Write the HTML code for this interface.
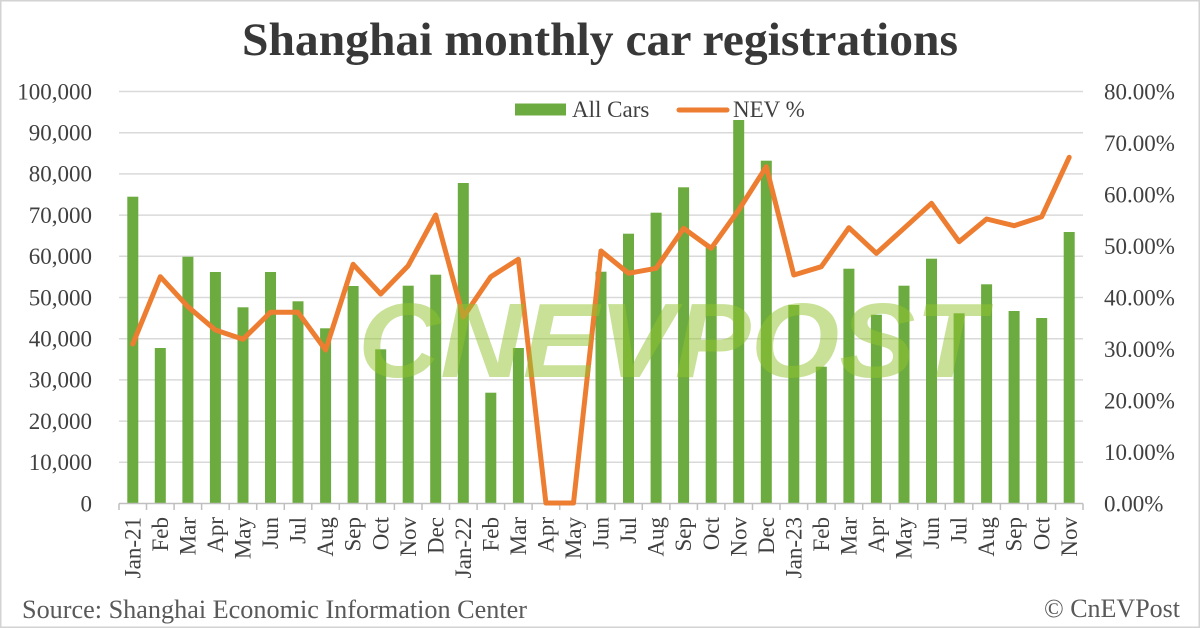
<!DOCTYPE html>
<html>
<head>
<meta charset="utf-8">
<style>
  html, body { margin: 0; padding: 0; background: #ffffff; }
  svg { display: block; }
  .ax { font-family: "Liberation Serif", "Times New Roman", serif; font-size: 23px; fill: #404040; }
</style>
</head>
<body>
<svg width="1200" height="628" viewBox="0 0 1200 628" xmlns="http://www.w3.org/2000/svg">
  <rect x="0" y="0" width="1200" height="628" fill="#ffffff"/>
  <rect x="0.75" y="0.75" width="1198.5" height="626.5" fill="none" stroke="#d3d3d3" stroke-width="1.5"/>

  <!-- Title -->
  <text x="242" y="55" textLength="716" lengthAdjust="spacingAndGlyphs" font-family="Liberation Serif, serif" font-weight="bold" font-size="47" fill="#383838">Shanghai monthly car registrations</text>

  <!-- Gridlines -->
  <g stroke="#d9d9d9" stroke-width="1.5">
    <line x1="119" y1="91.5" x2="1083" y2="91.5"/>
    <line x1="119" y1="132.7" x2="1083" y2="132.7"/>
    <line x1="119" y1="173.9" x2="1083" y2="173.9"/>
    <line x1="119" y1="215.1" x2="1083" y2="215.1"/>
    <line x1="119" y1="256.3" x2="1083" y2="256.3"/>
    <line x1="119" y1="297.5" x2="1083" y2="297.5"/>
    <line x1="119" y1="338.7" x2="1083" y2="338.7"/>
    <line x1="119" y1="379.9" x2="1083" y2="379.9"/>
    <line x1="119" y1="421.1" x2="1083" y2="421.1"/>
    <line x1="119" y1="462.3" x2="1083" y2="462.3"/>
  </g>

  <!-- Bars -->
  <g fill="#6cab3f">
    <rect x="127.3" y="196.7" width="11" height="306.8"/>
    <rect x="154.8" y="348" width="11" height="155.5"/>
    <rect x="182.4" y="256.7" width="11" height="246.8"/>
    <rect x="209.9" y="272" width="11" height="231.5"/>
    <rect x="237.5" y="307.3" width="11" height="196.2"/>
    <rect x="265" y="272" width="11" height="231.5"/>
    <rect x="292.5" y="301.3" width="11" height="202.2"/>
    <rect x="320.1" y="328.3" width="11" height="175.2"/>
    <rect x="347.6" y="286" width="11" height="217.5"/>
    <rect x="375.2" y="349.3" width="11" height="154.2"/>
    <rect x="402.7" y="285.7" width="11" height="217.8"/>
    <rect x="430.2" y="274.7" width="11" height="228.8"/>
    <rect x="457.8" y="183" width="11" height="320.5"/>
    <rect x="485.3" y="392.7" width="11" height="110.8"/>
    <rect x="512.9" y="348" width="11" height="155.5"/>
    <rect x="595.5" y="271.7" width="11" height="231.8"/>
    <rect x="623" y="233.7" width="11" height="269.8"/>
    <rect x="650.6" y="212.7" width="11" height="290.8"/>
    <rect x="678.1" y="187.3" width="11" height="316.2"/>
    <rect x="705.7" y="246" width="11" height="257.5"/>
    <rect x="733.2" y="120" width="11" height="383.5"/>
    <rect x="760.8" y="160.7" width="11" height="342.8"/>
    <rect x="788.3" y="305" width="11" height="198.5"/>
    <rect x="815.8" y="366.7" width="11" height="136.8"/>
    <rect x="843.4" y="268.7" width="11" height="234.8"/>
    <rect x="870.9" y="314.7" width="11" height="188.8"/>
    <rect x="898.5" y="285.7" width="11" height="217.8"/>
    <rect x="926" y="258.7" width="11" height="244.8"/>
    <rect x="953.6" y="313.3" width="11" height="190.2"/>
    <rect x="981.1" y="284.3" width="11" height="219.2"/>
    <rect x="1008.6" y="311" width="11" height="192.5"/>
    <rect x="1036.2" y="318" width="11" height="185.5"/>
    <rect x="1063.7" y="232" width="11" height="271.5"/>
  </g>

  <!-- X axis line and ticks -->
  <g stroke="#bfbfbf" stroke-width="1.5">
    <line x1="119" y1="503.5" x2="1083" y2="503.5"/>
    <path d="M119 503.5v6.5M146.5 503.5v6.5M174.1 503.5v6.5M201.6 503.5v6.5M229.2 503.5v6.5M256.7 503.5v6.5M284.3 503.5v6.5M311.8 503.5v6.5M339.3 503.5v6.5M366.9 503.5v6.5M394.4 503.5v6.5M422 503.5v6.5M449.5 503.5v6.5M477.1 503.5v6.5M504.6 503.5v6.5M532.1 503.5v6.5M559.7 503.5v6.5M587.2 503.5v6.5M614.8 503.5v6.5M642.3 503.5v6.5M669.9 503.5v6.5M697.4 503.5v6.5M724.9 503.5v6.5M752.5 503.5v6.5M780 503.5v6.5M807.6 503.5v6.5M835.1 503.5v6.5M862.7 503.5v6.5M890.2 503.5v6.5M917.7 503.5v6.5M945.3 503.5v6.5M972.8 503.5v6.5M1000.4 503.5v6.5M1027.9 503.5v6.5M1055.5 503.5v6.5M1083 503.5v6.5"/>
  </g>

  <!-- NEV % line -->
  <polyline fill="none" stroke="#ed7d31" stroke-width="5" stroke-linejoin="round" stroke-linecap="round"
    points="132.8,344 160.3,276.7 187.9,306.7 215.4,330 243,339.3 270.5,312.3 298,312.3 325.6,350 353.1,264.3 380.7,294 408.2,265.7 435.7,215 463.3,317 490.8,276.7 518.4,259.3 545.9,503 573.5,503 601,251 628.5,273.3 656.1,268.3 683.6,228.3 711.2,248.3 738.7,210 766.3,166.7 793.8,275 821.3,266.7 848.9,227.7 876.4,253.3 904,228.3 931.5,203.3 959.1,241.7 986.6,219 1014.1,225.7 1041.7,216.7 1069.2,157.3"/>

  <!-- Watermark -->
  <text x="358" y="377" textLength="627" lengthAdjust="spacingAndGlyphs" font-family="Liberation Sans, sans-serif" font-weight="bold" font-style="italic" font-size="106" fill="#91c32d" fill-opacity="0.5">CNEVPOST</text>

  <!-- Legend -->
  <rect x="515" y="103.5" width="51" height="12" fill="#6cab3f"/>
  <text x="572" y="117" class="ax" fill="#404040">All Cars</text>
  <line x1="679" y1="110" x2="727" y2="110" stroke="#ed7d31" stroke-width="5" stroke-linecap="round"/>
  <text x="733" y="117" class="ax">NEV %</text>

  <!-- Left axis labels -->
  <g class="ax" text-anchor="end">
    <text x="92" y="99.3">100,000</text>
    <text x="92" y="140.5">90,000</text>
    <text x="92" y="181.7">80,000</text>
    <text x="92" y="222.9">70,000</text>
    <text x="92" y="264.1">60,000</text>
    <text x="92" y="305.3">50,000</text>
    <text x="92" y="346.5">40,000</text>
    <text x="92" y="387.7">30,000</text>
    <text x="92" y="428.9">20,000</text>
    <text x="92" y="470.1">10,000</text>
    <text x="92" y="511.3">0</text>
  </g>

  <!-- Right axis labels -->
  <g class="ax">
    <text x="1104" y="99.3">80.00%</text>
    <text x="1104" y="150.8">70.00%</text>
    <text x="1104" y="202.3">60.00%</text>
    <text x="1104" y="253.8">50.00%</text>
    <text x="1104" y="305.3">40.00%</text>
    <text x="1104" y="356.8">30.00%</text>
    <text x="1104" y="408.3">20.00%</text>
    <text x="1104" y="459.8">10.00%</text>
    <text x="1104" y="511.3">0.00%</text>
  </g>

  <!-- X labels -->
  <g class="ax" text-anchor="end">
    <text transform="translate(140.4,517) rotate(-90)">Jan-21</text>
    <text transform="translate(167.9,517) rotate(-90)">Feb</text>
    <text transform="translate(195.5,517) rotate(-90)">Mar</text>
    <text transform="translate(223,517) rotate(-90)">Apr</text>
    <text transform="translate(250.6,517) rotate(-90)">May</text>
    <text transform="translate(278.1,517) rotate(-90)">Jun</text>
    <text transform="translate(305.6,517) rotate(-90)">Jul</text>
    <text transform="translate(333.2,517) rotate(-90)">Aug</text>
    <text transform="translate(360.7,517) rotate(-90)">Sep</text>
    <text transform="translate(388.3,517) rotate(-90)">Oct</text>
    <text transform="translate(415.8,517) rotate(-90)">Nov</text>
    <text transform="translate(443.3,517) rotate(-90)">Dec</text>
    <text transform="translate(470.9,517) rotate(-90)">Jan-22</text>
    <text transform="translate(498.4,517) rotate(-90)">Feb</text>
    <text transform="translate(526,517) rotate(-90)">Mar</text>
    <text transform="translate(553.5,517) rotate(-90)">Apr</text>
    <text transform="translate(581.1,517) rotate(-90)">May</text>
    <text transform="translate(608.6,517) rotate(-90)">Jun</text>
    <text transform="translate(636.1,517) rotate(-90)">Jul</text>
    <text transform="translate(663.7,517) rotate(-90)">Aug</text>
    <text transform="translate(691.2,517) rotate(-90)">Sep</text>
    <text transform="translate(718.8,517) rotate(-90)">Oct</text>
    <text transform="translate(746.3,517) rotate(-90)">Nov</text>
    <text transform="translate(773.9,517) rotate(-90)">Dec</text>
    <text transform="translate(801.4,517) rotate(-90)">Jan-23</text>
    <text transform="translate(828.9,517) rotate(-90)">Feb</text>
    <text transform="translate(856.5,517) rotate(-90)">Mar</text>
    <text transform="translate(884,517) rotate(-90)">Apr</text>
    <text transform="translate(911.6,517) rotate(-90)">May</text>
    <text transform="translate(939.1,517) rotate(-90)">Jun</text>
    <text transform="translate(966.7,517) rotate(-90)">Jul</text>
    <text transform="translate(994.2,517) rotate(-90)">Aug</text>
    <text transform="translate(1021.7,517) rotate(-90)">Sep</text>
    <text transform="translate(1049.3,517) rotate(-90)">Oct</text>
    <text transform="translate(1076.8,517) rotate(-90)">Nov</text>
  </g>

  <!-- Footer -->
  <text x="22" y="618" textLength="505" lengthAdjust="spacingAndGlyphs" font-family="Liberation Serif, serif" font-size="26" fill="#595959">Source: Shanghai Economic Information Center</text>
  <text x="1180" y="617" text-anchor="end" font-family="Liberation Serif, serif" font-size="26" fill="#595959">© CnEVPost</text>
</svg>
</body>
</html>
